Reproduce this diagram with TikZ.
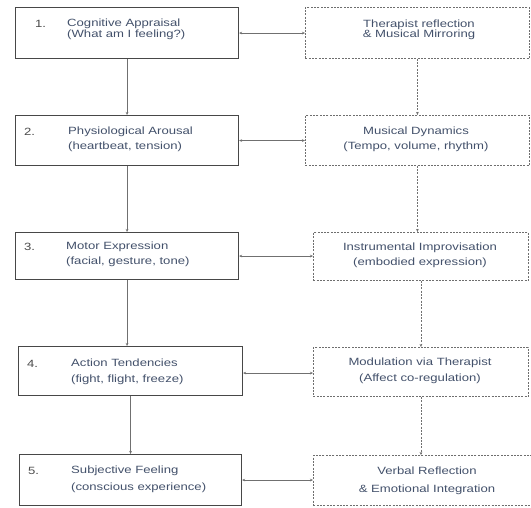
\documentclass[tikz,border=0pt]{standalone}
\usepackage{fontspec}
\setmainfont{Liberation Sans}[FakeStretch=1.25]
\usetikzlibrary{arrows.meta}

\definecolor{boxline}{HTML}{474747}
\definecolor{dashline}{HTML}{6E6E6E}
\definecolor{arrline}{HTML}{707070}
\definecolor{txtblue}{HTML}{43516B}
\definecolor{numgray}{HTML}{4C4C4C}

\tikzset{
  stage/.style={draw=boxline, line width=1.1pt, anchor=north west, inner sep=0pt},
  music/.style={draw=dashline, line width=0.9pt, dash pattern=on 2pt off 1.3pt,
    anchor=north west, inner sep=0pt},
  stagetxt/.style={anchor=west, align=left, inner sep=0pt, text=txtblue},
  musictxt/.style={anchor=center, align=center, inner sep=0pt, text=txtblue},
  num/.style={anchor=west, inner sep=0pt, text=numgray},
  flow/.style={draw=arrline, line width=0.8pt, -{Stealth[length=3pt,width=2.6pt]}},
  dashflow/.style={flow, dash pattern=on 2pt off 1.3pt},
  link/.style={draw=arrline, line width=0.8pt,
    {Stealth[length=3pt,width=2.6pt]}-{Stealth[length=3pt,width=2.6pt]}}
}

\begin{document}
\begin{tikzpicture}[x=1pt, y=-1pt, font=\fontsize{10.5}{15}\selectfont]
  \fill[white] (0,0) rectangle (531,508);
  \useasboundingbox (0,0) rectangle (531,508);

  % left column
  \node[stage, minimum width=223pt, minimum height=51pt] (cog) at (15,7) {};
  \node[stage, minimum width=223pt, minimum height=50pt] (phys) at (15,115) {};
  \node[stage, minimum width=223pt, minimum height=47pt] (motor) at (15,232) {};
  \node[stage, minimum width=224pt, minimum height=49pt] (action) at (18,346) {};
  \node[stage, minimum width=222pt, minimum height=51pt] (subj) at (19,454) {};

  \node[num] (cognum) at (35,24) {1.};
  \node[num] (physnum) at (24,132) {2.};
  \node[num] (motornum) at (24,247) {3.};
  \node[num] (actionnum) at (27,364) {4.};
  \node[num] (subjnum) at (28,471) {5.};

  \node[stagetxt, font=\fontsize{10.5}{10.5}\selectfont] (cogtxt) at (67,29.5)
    {Cognitive Appraisal\\(What am I feeling?)};
  \node[stagetxt] (phystxt) at (68,139.5)
    {Physiological Arousal\\(heartbeat, tension)};
  \node[stagetxt] (motortxt) at (66,254.5)
    {Motor Expression\\(facial, gesture, tone)};
  \node[stagetxt, font=\fontsize{10.5}{16}\selectfont] (actiontxt) at (71,372)
    {Action Tendencies\\(fight, flight, freeze)};
  \node[stagetxt, font=\fontsize{10.5}{17}\selectfont] (subjtxt) at (71,479.5)
    {Subjective Feeling\\(conscious experience)};

  % right column
  \node[music, minimum width=224pt, minimum height=51pt] (refl) at (305,7) {};
  \node[music, minimum width=224pt, minimum height=50pt] (dyn) at (305,115) {};
  \node[music, minimum width=215pt, minimum height=48pt] (impro) at (313,232) {};
  \node[music, minimum width=215pt, minimum height=49pt] (modul) at (313,347) {};
  \node[music, minimum width=228pt, minimum height=50pt] (verbal) at (313,455) {};

  \node[musictxt, font=\fontsize{10.5}{10.5}\selectfont] (refltxt) at (419,30)
    {Therapist reflection\\\& Musical Mirroring};
  \node[musictxt] (dyntxt) at (416,139.5)
    {Musical Dynamics\\(Tempo, volume, rhythm)};
  \node[musictxt] (improtxt) at (420,255)
    {Instrumental Improvisation\\(embodied expression)};
  \node[musictxt, font=\fontsize{10.5}{16}\selectfont] (modultxt) at (420,371)
    {Modulation via Therapist\\(Affect co-regulation)};
  \node[musictxt, font=\fontsize{10.5}{18}\selectfont] (verbaltxt) at (427,481)
    {Verbal Reflection\\\& Emotional Integration};

  % arrows
  \draw[flow] (cog.south) -- (cog.south |- phys.north);
  \draw[flow] (phys.south) -- (phys.south |- motor.north);
  \draw[flow] (motor.south) -- (motor.south |- action.north);
  \draw[flow] (action.south) -- (action.south |- subj.north);

  \draw[dashflow] (refl.south) -- (refl.south |- dyn.north);
  \draw[dashflow] (dyn.south) -- (dyn.south |- impro.north);
  \draw[dashflow] (impro.south) -- (impro.south |- modul.north);
  \draw[dashflow] (modul.south) -- (modul.south |- verbal.north);

  \draw[link] (cog.east) -- (cog.east -| refl.west);
  \draw[link] (phys.east) -- (phys.east -| dyn.west);
  \draw[link] (motor.east) -- (motor.east -| impro.west);
  \draw[link] ([yshift=-2pt]action.east) -- ([yshift=-2pt]action.east -| modul.west);
  \draw[link] (subj.east) -- (subj.east -| verbal.west);
\end{tikzpicture}
\end{document}
